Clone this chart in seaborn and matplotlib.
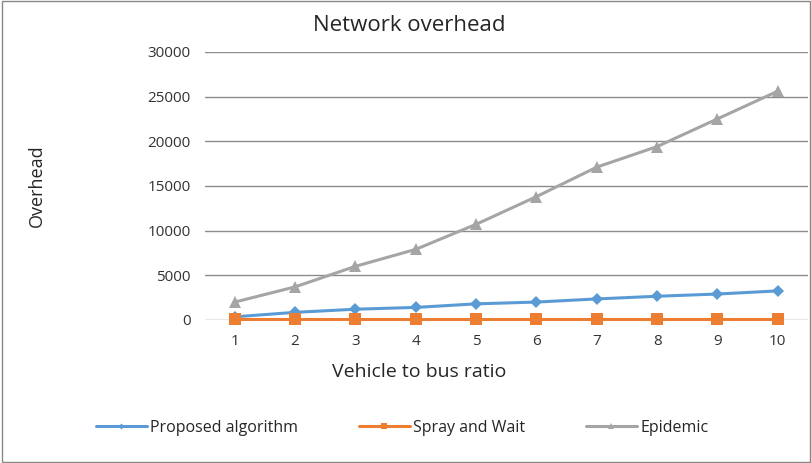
import matplotlib
matplotlib.use('Agg')
import matplotlib.pyplot as plt
import pandas as pd
import seaborn as sns

# Data
ratios = [1, 2, 3, 4, 5, 6, 7, 8, 9, 10]
proposed = [350, 850, 1200, 1400, 1800, 2000, 2350, 2650, 2900, 3250]
spray_wait = [50, 50, 50, 50, 50, 50, 50, 50, 50, 50]
epidemic = [2000, 3700, 6000, 7900, 10700, 13800, 17100, 19400, 22500, 25600]
series_names = ['Proposed algorithm', 'Spray and Wait', 'Epidemic']

df = pd.DataFrame({
    'ratio': ratios * 3,
    'overhead': proposed + spray_wait + epidemic,
    'series': [series_names[0]] * 10 + [series_names[1]] * 10 + [series_names[2]] * 10,
})

sns.set_style('white')
plt.rcParams['font.family'] = ['Open Sans', 'DejaVu Sans']

colors = {'Proposed algorithm': '#5B9BD5', 'Spray and Wait': '#ED7D31', 'Epidemic': '#A5A5A5'}
markers = {'Proposed algorithm': 'D', 'Spray and Wait': 's', 'Epidemic': '^'}
msizes = {'Proposed algorithm': 6, 'Spray and Wait': 8.5, 'Epidemic': 8.5}

fig = plt.figure(figsize=(8.12, 4.63), dpi=100)
ax = fig.add_axes([0.252, 0.309, 0.743, 0.579])

for name in series_names:
    sub = df[df['series'] == name]
    sns.lineplot(data=sub, x='ratio', y='overhead', ax=ax, color=colors[name],
                 marker=markers[name], markersize=msizes[name], markeredgewidth=0,
                 linewidth=2.2, label=name, legend=False)
for line in ax.lines:
    line.set_clip_on(False)

ax.set_xlim(0.5, 10.5)
ax.set_ylim(0, 30000)
ax.set_yticks(range(0, 30001, 5000))
ax.set_xticks(ratios)
ax.yaxis.grid(True, color='#8C8C8C', linewidth=1)
ax.set_axisbelow(True)
for s in ax.spines.values():
    s.set_visible(False)
ax.tick_params(axis='both', length=0, labelsize=11, colors='#333333', pad=10)

ax.set_xlabel('')
ax.set_ylabel('')
fig.text(0.516, 0.197, 'Vehicle to bus ratio', fontsize=14, ha='center', va='center')
fig.text(0.045, 0.60, 'Overhead', rotation=90, fontsize=13, ha='center', va='center')
fig.text(0.504, 0.945, 'Network overhead', fontsize=16, ha='center', va='center')

handles, labels = ax.get_legend_handles_labels()
fig.legend(handles, labels, loc='center', bbox_to_anchor=(0.495, 0.076), ncol=3,
           frameon=False, fontsize=11.5, columnspacing=3.8, handlelength=3.2,
           handletextpad=0.2, markerscale=0.5)

# outer border like the original export
fig.patches.append(plt.Rectangle((0.003, 0.003), 0.994, 0.994, transform=fig.transFigure,
                                 fill=False, edgecolor='#888888', linewidth=1))

fig.savefig('out.png', dpi=100)
